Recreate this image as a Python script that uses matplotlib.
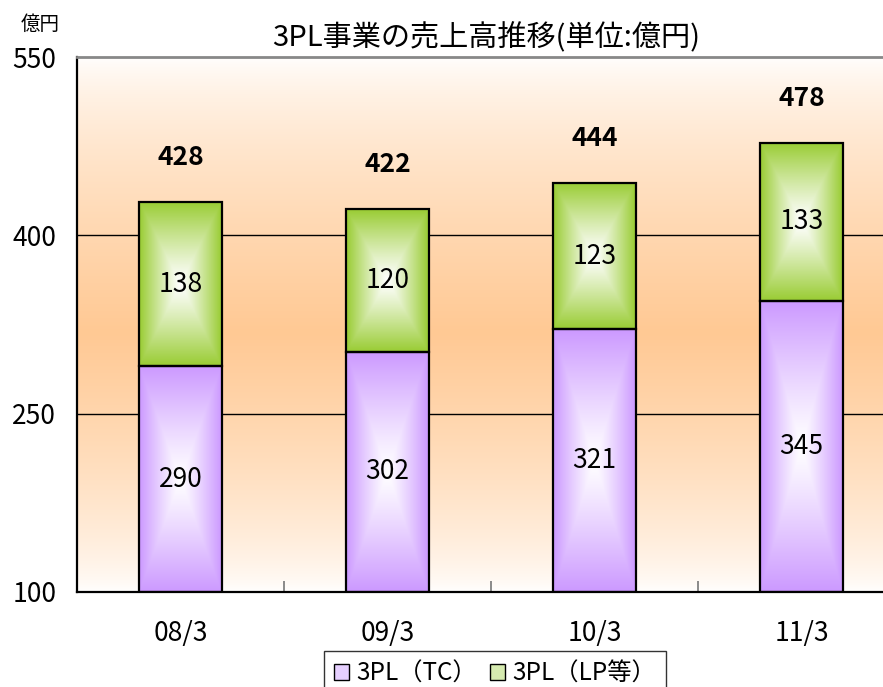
import numpy as np
import matplotlib
matplotlib.use("Agg")
import matplotlib.pyplot as plt
from matplotlib.patches import Patch
from matplotlib.colors import to_rgb

plt.rcParams['font.family'] = ['Noto Sans CJK JP', 'DejaVu Sans']

categories = ["08/3", "09/3", "10/3", "11/3"]
tc_values = [290, 302, 321, 345]
lp_values = [138, 120, 123, 133]
totals = [428, 422, 444, 478]
series_names = ["3PL（TC）", "3PL（LP等）"]
title = "3PL事業の売上高推移(単位:億円)"
unit_label = "億円"
yticks = [100, 250, 400, 550]

purple = "#CC99FF"
green = "#99CC33"
orange = "#FFC994"

W, H = 883, 687
fig = plt.figure(figsize=(W / 100, H / 100), dpi=100)
ax = fig.add_axes([77 / W, 95 / H, 828 / W, 535 / H])

x = np.arange(len(categories))
ymin, ymax = yticks[0], yticks[-1]

# background vertical gradient
vals = np.linspace(ymax, ymin, 400)
mid = 318
frac = np.where(vals >= mid, (ymax - vals) / (ymax - mid), (vals - ymin) / (mid - ymin))
frac = np.clip(frac, 0, 1) ** 0.7
white = np.array([1.0, 1.0, 1.0])
oc = np.array(to_rgb(orange))
bg = white[None, :] * (1 - frac[:, None]) + oc[None, :] * frac[:, None]
ax.imshow(bg[:, None, :], extent=(-0.5, len(categories) - 0.5, ymin, ymax),
          aspect='auto', zorder=0, interpolation='bilinear')

for yv in yticks[1:-1]:
    ax.axhline(yv, color='black', lw=1.0, zorder=1)

bottom_base = [ymin] * len(categories)
tc_heights = [v - ymin for v in tc_values]
bars_tc = ax.bar(x, tc_heights, width=0.4, bottom=bottom_base, facecolor='none',
                 edgecolor='black', linewidth=1.6, zorder=3)
bars_lp = ax.bar(x, lp_values, width=0.4, bottom=tc_values, facecolor='none',
                 edgecolor='black', linewidth=1.6, zorder=3)


def grad_fill(patch, color):
    x0, y0 = patch.get_x(), patch.get_y()
    w, h = patch.get_width(), patch.get_height()
    u = np.linspace(-1, 1, 80)
    v = np.linspace(-1, 1, 240)
    U, V = np.meshgrid(u, v)
    t = np.maximum(np.abs(U), np.abs(V))
    s = np.clip(t, 0, 1) ** 1.15
    c = np.array(to_rgb(color))
    img = (1 - s)[..., None] * white + s[..., None] * c
    ax.imshow(img, extent=(x0, x0 + w, y0, y0 + h), aspect='auto', zorder=2,
              interpolation='bilinear')


for p in bars_tc:
    grad_fill(p, purple)
for p in bars_lp:
    grad_fill(p, green)

fs = 19
for i in range(len(categories)):
    ax.text(x[i], (ymin + tc_values[i]) / 2, str(tc_values[i]), ha='center', va='center',
            fontsize=fs, zorder=4)
    ax.text(x[i], tc_values[i] + lp_values[i] / 2, str(lp_values[i]), ha='center',
            va='center', fontsize=fs, zorder=4)
    ax.annotate(str(totals[i]), (x[i], totals[i]), xytext=(0, 32), textcoords='offset points',
                ha='center', va='center', fontsize=fs, fontweight='bold', zorder=4)

ax.set_xlim(-0.5, len(categories) - 0.5)
ax.set_ylim(ymin, ymax)
ax.set_yticks(yticks)
ax.set_yticklabels([str(v) for v in yticks], fontsize=fs)
ax.tick_params(axis='y', length=0, pad=15)
ax.set_xticks(x)
ax.set_xticklabels(categories, fontsize=fs)
ax.tick_params(axis='x', length=0, pad=20)
ax.set_xticks(np.arange(len(categories) + 1) - 0.5, minor=True)
ax.tick_params(axis='x', which='minor', direction='in', length=8, color='#777777', width=1.2)

for side in ['left', 'bottom']:
    ax.spines[side].set_color('black')
    ax.spines[side].set_linewidth(1.6)
ax.spines['top'].set_color('#888888')
ax.spines['top'].set_linewidth(2)
ax.spines['right'].set_visible(False)

fig.text(486 / W, 1 - 38 / H, title, ha='center', va='center', fontsize=21)
fig.text(40 / W, 1 - 24 / H, unit_label, ha='center', va='center', fontsize=14)

handles = [Patch(facecolor='#E6D0FF', edgecolor='black', linewidth=1.0),
           Patch(facecolor='#D6EBB0', edgecolor='black', linewidth=1.0)]
leg = fig.legend(handles, series_names, loc='upper center', ncol=2,
                 bbox_to_anchor=(495 / W, 1 - 651 / H), bbox_transform=fig.transFigure,
                 fontsize=17.5, frameon=True, fancybox=False, edgecolor='black',
                 handlelength=0.65, handleheight=0.65, handletextpad=0.3, columnspacing=0.5,
                 borderpad=0.4, borderaxespad=0)
leg.get_frame().set_linewidth(1.0)

fig.savefig("out.png", dpi=100)
